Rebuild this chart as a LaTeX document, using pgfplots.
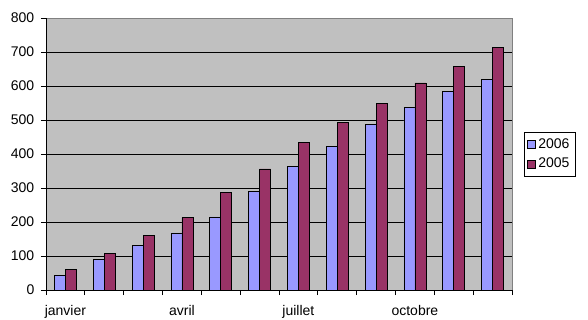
\documentclass[border=0pt]{standalone}
\usepackage{pgfplots}
\pgfplotsset{compat=1.18}
\usepackage{fontspec}
\setmainfont{Liberation Sans}
\definecolor{bg}{HTML}{C0C0C0}
\definecolor{sblue}{HTML}{9999FF}
\definecolor{smaroon}{HTML}{993366}
\definecolor{frame}{HTML}{808080}
\begin{document}
\begin{tikzpicture}[x=0.75pt,y=0.75pt]
\useasboundingbox (-46,-29) rectangle (542,290);
\begin{axis}[
  at={(0,0)}, anchor=south west,
  scale only axis, width=349.5pt, height=204pt,
  xmin=-0.5, xmax=11.5, ymin=0, ymax=800,
  axis x line*=bottom, axis y line*=left,
  axis line style={black, line width=0.6pt, -},
  axis background/.style={fill=bg, draw=frame, line width=0.6pt},
  ybar=0pt, bar width=8.25pt,
  xtick={-0.5,0.5,...,11.5}, xticklabels={},
  extra x ticks={0,3,6,9},
  extra x tick labels={janvier,avril,juillet,octobre},
  extra x tick style={major tick length=0pt, tick label style={yshift=-8pt}},
  ytick={0,100,...,800},
  extra y ticks={100,200,...,700}, extra y tick labels={},
  extra y tick style={grid=major, major tick length=0pt},
  major grid style={black, line width=0.6pt},
  tick align=outside, major tick length=3.75pt,
  tick style={black, line width=0.6pt},
  tick label style={font=\fontsize{10.5}{12.6}\selectfont},
  /pgf/number format/assume math mode=true,
  yticklabel style={xshift=-1.5pt},
  legend style={at={(1.026,0.5)}, anchor=west, draw=black, fill=white,
    font=\fontsize{10.5}{12.6}\selectfont, inner xsep=2pt, inner ysep=2.5pt, row sep=2pt,
    legend cell align=left},
  legend image code/.code={\draw[#1, line width=0.5pt] (0,-3pt) rectangle (6pt,3pt);},
]
\addplot[fill=sblue, draw=black, line width=0.5pt] coordinates {
(0,44) (1,89) (2,132) (3,168) (4,215) (5,291) (6,364) (7,423) (8,487) (9,538) (10,583) (11,620)};
\addplot[fill=smaroon, draw=black, line width=0.5pt] coordinates {
(0,61) (1,108) (2,161) (3,213) (4,286) (5,356) (6,434) (7,493) (8,549) (9,609) (10,657) (11,714)};
\legend{2006,2005}
\end{axis}
\end{tikzpicture}
\end{document}
